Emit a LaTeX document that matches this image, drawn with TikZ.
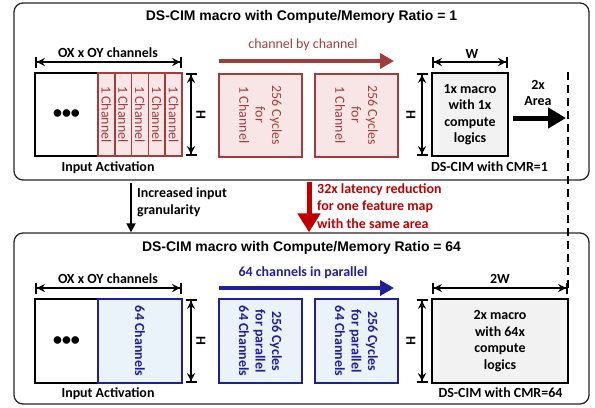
\documentclass[tikz,border=0pt]{standalone}
\usepackage{fontspec}
\setmainfont{Carlito}
\newfontfamily\arialfont{Liberation Sans}
\usepackage{xcolor}
\usetikzlibrary{arrows.meta}

\definecolor{chred}{HTML}{A33D3D}
\definecolor{chredfill}{HTML}{F8E6E6}
\definecolor{chblue}{HTML}{1F1F99}
\definecolor{chbluefill}{HTML}{EAF2FA}
\definecolor{latred}{HTML}{C00000}
\definecolor{macrofill}{HTML}{F2F2F2}

\begin{document}
\begin{tikzpicture}[
    x=1bp, y=-1bp,
    panel/.style = {
        draw=black!85, rounded corners=9bp, line width=1.3bp,
        minimum width=575bp, inner sep=0pt
    },
    ptitle/.style = {font=\arialfont\bfseries\fontsize{14}{16}\selectfont, inner sep=1pt},
    lbl/.style    = {font=\bfseries\fontsize{14}{16.5}\selectfont, inner sep=1pt},
    wbox/.style   = {
        draw, line width=2.2bp, fill=white,
        minimum width=63bp, inner sep=0pt
    },
    rstrip/.style = {
        draw=chred, fill=chredfill, line width=1.6bp, text=chred,
        rotate=-90, minimum width=83bp, minimum height=16.8bp,
        inner sep=0pt, font=\fontsize{14}{16}\selectfont
    },
    rbox/.style = {
        draw=chred, fill=chredfill, line width=2bp, text=chred,
        rotate=-90, minimum width=83bp, minimum height=83bp,
        align=center, inner sep=0pt, font=\fontsize{14}{16.5}\selectfont
    },
    bbox/.style = {
        draw=chblue, fill=chbluefill, line width=2.2bp, text=chblue,
        rotate=-90, minimum width=84bp, minimum height=83bp,
        align=center, inner sep=0pt, font=\bfseries\fontsize{14}{16.5}\selectfont
    },
    mbox/.style = {
        draw, fill=macrofill, line width=2.5bp, minimum height=83bp,
        align=center, inner sep=0pt, font=\bfseries\fontsize{14}{16.5}\selectfont
    },
    dim/.style = {
        line width=1.8bp,
        {Bar[width=11bp]Stealth[length=8bp,width=8bp]}-{Stealth[length=8bp,width=8bp]Bar[width=11bp]}
    },
    charr/.style = {line width=4.5bp, -{Triangle[length=14bp,width=15bp]}},
    arr/.style   = {line width=1.8bp, -{Triangle[length=9bp,width=9bp]}},
    latarr/.style = {line width=5bp, color=latred, -{Triangle[length=19bp,width=22bp]}},
    areaarr/.style = {line width=5bp, -{Triangle[length=18bp,width=20bp]}}
]
\useasboundingbox (0,0) rectangle (595,407);

%% ---- PANELS ----
\node[panel, minimum height=177bp] (toppanel) at (301.5, 91.5) {};
\node[panel, minimum height=171bp] (botpanel) at (301.5,318.5) {};
\node[ptitle] (title1) at (301.5, 17) {DS-CIM macro with Compute/Memory Ratio = 1};
\node[ptitle] (title2) at (301.5,248) {DS-CIM macro with Compute/Memory Ratio = 64};

%% ---- CMR = 1 : INPUT ACTIVATION ----
\node[wbox, minimum height=83bp] (in1) at (66.5,114.5) {\fontsize{18}{18}\selectfont\textbf{•••}};
\foreach \i in {0,...,4}
    \node[rstrip] (ch\i) at ({106.4+16.8*\i},114.5) {1 Channel};
\node[lbl] (ox1) at (108,53) {OX x OY channels};
\coordinate (ox1a) at (35,62);
\coordinate (ox1b) at (182,62);
\draw[dim] (ox1a) -- (ox1b);
\coordinate (h1a) at (191,73);
\coordinate (h1b) at (191,156);
\draw[dim] (h1a) -- (h1b);
\node[lbl, rotate=-90] (hl1) at (201,114.5) {H};
\node[lbl] (ia1) at (108,168) {Input Activation};

%% ---- CMR = 1 : CYCLES ----
\node[font=\fontsize{14}{16}\selectfont, text=chred, inner sep=1pt] (cbc) at (303,45) {channel by channel};
\coordinate (cbcA) at (219,61);
\coordinate (cbcB) at (394,61);
\draw[charr, color=chred] (cbcA) -- (cbcB);
\node[rbox] (cyc1) at (260.5,115) {256 Cycles\\for\\1 Channel};
\node[rbox] (cyc2) at (356.5,115) {256 Cycles\\for\\1 Channel};

%% ---- CMR = 1 : MACRO ----
\coordinate (h2a) at (422,73);
\coordinate (h2b) at (422,156);
\draw[dim] (h2a) -- (h2b);
\node[lbl, rotate=-90] (hl2) at (411,114.5) {H};
\node[lbl] (wl) at (472,54) {W};
\coordinate (w1a) at (432,62);
\coordinate (w1b) at (508,62);
\draw[dim] (w1a) -- (w1b);
\node[mbox, minimum width=76bp] (mac1) at (470,114.5) {1x macro\\with 1x\\compute\\logics};
\node[lbl] (cmr1) at (489.5,167) {DS-CIM with CMR=1};
\node[lbl, align=center, font=\bfseries\fontsize{14}{16.7}\selectfont] (area) at (538,93) {2x\\Area};
\coordinate (areaA) at (513,118);
\coordinate (areaB) at (566,118);
\draw[areaarr] (areaA) -- (areaB);

%% ---- BETWEEN PANELS ----
\coordinate (granA) at (131,183);
\draw[arr] (granA) -- (granA |- botpanel.north);
\node[lbl, anchor=west, align=left, font=\bfseries\fontsize{14}{17.3}\selectfont] (gran) at (136,202.5) {Increased input\\granularity};
\coordinate (latA) at (309,182);
\draw[latarr] (latA) -- (latA |- botpanel.north);
\node[lbl, anchor=west, align=left, text=latred, font=\bfseries\fontsize{14}{17.5}\selectfont] (lat) at (316,206) {32x latency reduction\\for one feature map\\with the same area};

%% ---- CMR = 64 : INPUT ACTIVATION ----
\node[wbox, minimum height=84bp] (in2) at (66.5,341) {\fontsize{18}{18}\selectfont\textbf{•••}};
\node[bbox, minimum height=84bp] (ch64) at (140,341) {64 Channels};
\node[lbl] (ox2) at (108,279) {OX x OY channels};
\coordinate (ox2a) at (35,288);
\coordinate (ox2b) at (182,288);
\draw[dim] (ox2a) -- (ox2b);
\coordinate (h3a) at (191,299);
\coordinate (h3b) at (191,383);
\draw[dim] (h3a) -- (h3b);
\node[lbl, rotate=-90] (hl3) at (201,341) {H};
\node[lbl] (ia2) at (108,394) {Input Activation};

%% ---- CMR = 64 : CYCLES ----
\node[lbl, text=chblue] (par) at (303,273) {64 channels in parallel};
\coordinate (parA) at (219,288);
\coordinate (parB) at (394,288);
\draw[charr, color=chblue] (parA) -- (parB);
\node[bbox] (cyc3) at (260.5,341) {256 Cycles\\for parallel\\64 Channels};
\node[bbox] (cyc4) at (356.5,341) {256 Cycles\\for parallel\\64 Channels};

%% ---- CMR = 64 : MACRO ----
\coordinate (h4a) at (422,299);
\coordinate (h4b) at (422,383);
\draw[dim] (h4a) -- (h4b);
\node[lbl, rotate=-90] (hl4) at (411,341) {H};
\node[lbl] (w2l) at (500,279) {2W};
\coordinate (w2a) at (432,288);
\coordinate (w2b) at (568,288);
\draw[dim] (w2a) -- (w2b);
\node[mbox, minimum width=136bp, minimum height=84bp] (mac2) at (500,341) {2x macro\\with 64x\\compute\\logics};
\node[lbl] (cmr2) at (500.5,393) {DS-CIM with CMR=64};

%% ---- AREA BORDER ----
\coordinate (dashT) at (568,72);
\draw[line width=2bp, dash pattern=on 8bp off 5bp] (dashT) -- (w2b);

\end{tikzpicture}
\end{document}
